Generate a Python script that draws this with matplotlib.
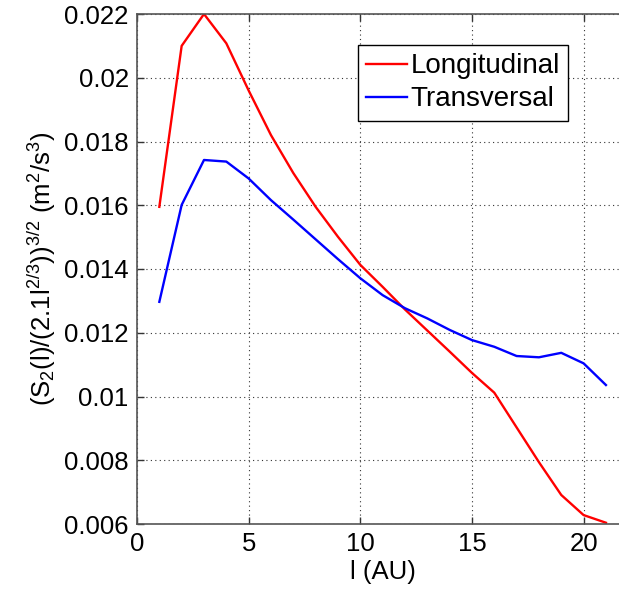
import matplotlib
matplotlib.use("Agg")
import matplotlib.pyplot as plt

plt.rcParams["font.family"] = ["Liberation Sans", "DejaVu Sans"]
plt.rcParams["mathtext.fontset"] = "custom"
plt.rcParams["mathtext.rm"] = "Liberation Sans"
plt.rcParams["mathtext.default"] = "regular"

# separation l in AU
scale_au = [1, 2, 3, 4, 5, 6, 7, 8, 9, 10, 11, 12, 13, 14, 15, 16, 17, 18, 19, 20, 21]
longitudinal = [0.01595, 0.0210, 0.0220, 0.02108, 0.01960, 0.01820, 0.01701, 0.01595, 0.01501,
                0.01413, 0.01344, 0.01273, 0.01207, 0.01141, 0.01074, 0.01012, 0.00903,
                0.00794, 0.00691, 0.00628, 0.00604]
transversal = [0.01297, 0.01601, 0.01742, 0.01737, 0.01684, 0.01616, 0.01555, 0.01493, 0.01431,
               0.01371, 0.01318, 0.01277, 0.01245, 0.01209, 0.01177, 0.01156, 0.01127,
               0.01123, 0.01137, 0.01104, 0.01036]
x_ticks = [0, 5, 10, 15, 20]
y_ticks = [0.006, 0.008, 0.01, 0.012, 0.014, 0.016, 0.018, 0.02, 0.022]
y_tick_labels = ["0.006", "0.008", "0.01", "0.012", "0.014", "0.016", "0.018", "0.02", "0.022"]

fig = plt.figure(figsize=(6.19, 5.94), dpi=100)
# axes runs past the right border of the picture, like the original crop
ax = fig.add_axes([137 / 619, 70 / 594, 22 * 22.33 / 619, 510 / 594])

ax.plot(scale_au, longitudinal, color="red", lw=1.7, label="Longitudinal")
ax.plot(scale_au, transversal, color="blue", lw=1.7, label="Transversal")

ax.set_xlim(0, 22)
ax.set_ylim(0.006, 0.022)
ax.set_xticks(x_ticks)
ax.set_yticks(y_ticks)
ax.set_yticklabels(y_tick_labels)
ax.tick_params(direction="in", labelsize=18.5, top=True, right=True, length=5, width=1, color="#333333", pad=6)
ax.grid(True, linestyle=(0, (1, 3)), color="#333333", lw=0.8)
for spine in ax.spines.values():
    spine.set_color("#555555")
    spine.set_linewidth(1.2)

ax.set_xlabel("l (AU)", fontsize=18.5, labelpad=3)
ax.set_ylabel(r"(S$_2$(l)/(2.1l$^{2/3}$))$^{3/2}$ (m$^2$/s$^3$)", fontsize=18.5, labelpad=4)

leg = ax.legend(loc="upper left", bbox_to_anchor=(358 / 619, 1 - 45 / 594), bbox_transform=fig.transFigure,
                fontsize=20, fancybox=False, framealpha=1, edgecolor="black",
                handlelength=1.45, handletextpad=0.15, borderpad=0.3, labelspacing=0.25,
                borderaxespad=0)
leg.get_frame().set_linewidth(1.0)

fig.savefig("out.png", dpi=100)
